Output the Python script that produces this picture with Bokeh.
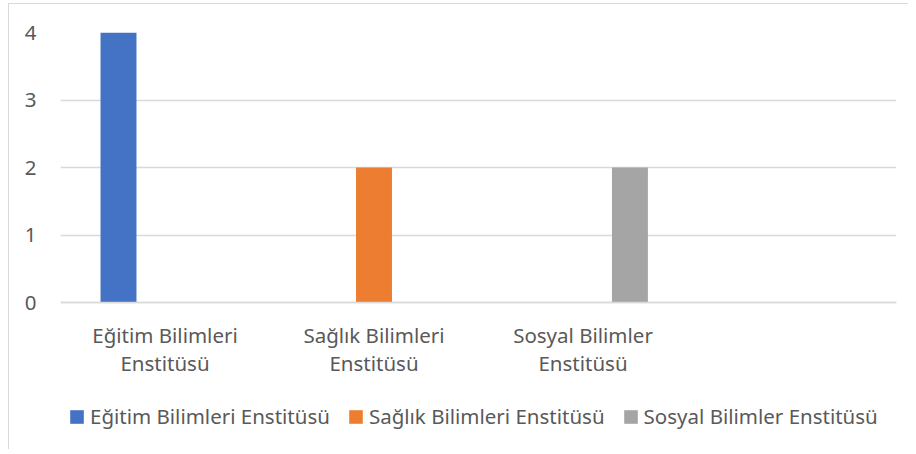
from bokeh.plotting import figure
from bokeh.models import FactorRange, Range1d, FixedTicker, Legend, LegendItem, ColumnDataSource
from bokeh.transform import dodge
from bokeh.embed import file_html
from bokeh.resources import INLINE

# Data
categories = ["Eğitim Bilimleri\nEnstitüsü", "Sağlık Bilimleri\nEnstitüsü", "Sosyal Bilimler\nEnstitüsü", " "]
series_names = ["Eğitim Bilimleri Enstitüsü", "Sağlık Bilimleri Enstitüsü", "Sosyal Bilimler Enstitüsü"]
egitim = [4, float("nan"), float("nan"), float("nan")]
saglik = [float("nan"), 2, float("nan"), float("nan")]
sosyal = [float("nan"), float("nan"), 2, float("nan")]
y_ticks = [0, 1, 2, 3, 4]

colors = ["#4472C4", "#ED7D31", "#A5A5A5"]
offsets = [-0.2225, 0.0, 0.2245]
FONT = "Noto Sans"
TXT = "#595959"
FS = "20.5px"

src = ColumnDataSource(dict(cat=categories, egitim=egitim, saglik=saglik, sosyal=sosyal))

# frame: top 28px, 270px for 0..4, extra room below 0 for labels and legend
p = figure(width=900, height=446, output_backend="svg", toolbar_location=None,
           x_range=FactorRange(factors=categories, range_padding=0),
           y_range=Range1d(-(418 - 270) / 67.5, 4),
           min_border_left=51, min_border_right=13, min_border_top=28, min_border_bottom=0)
p.styles = {"margin-left": "8px", "margin-top": "3px",
            "border-left": "1px solid #d9d9d9", "border-top": "1px solid #d9d9d9"}
p.x_range.factor_padding = 0
p.outline_line_color = None
p.background_fill_color = "white"
p.border_fill_color = "white"

items = []
for name, col, c, off in zip(series_names, ["egitim", "saglik", "sosyal"], colors, offsets):
    r = p.vbar(x=dodge("cat", off, range=p.x_range), top=col, width=0.172, bottom=0,
               source=src, fill_color=c, line_color=None)
    items.append(LegendItem(label=name, renderers=[r]))

# axes
p.yaxis.ticker = FixedTicker(ticks=y_ticks)
p.yaxis.axis_line_color = None
p.yaxis.major_tick_line_color = None
p.yaxis.minor_tick_line_color = None
p.yaxis.major_label_text_font = FONT
p.yaxis.major_label_text_font_size = FS
p.yaxis.major_label_text_color = TXT
p.yaxis.major_label_standoff = 18

p.xaxis.fixed_location = 0
p.xaxis.axis_line_color = "#d9d9d9"
p.xaxis.axis_line_width = 1.5
p.xaxis.major_tick_line_color = None
p.xaxis.minor_tick_line_color = None
p.xaxis.major_label_text_font = FONT
p.xaxis.major_label_text_font_size = FS
p.xaxis.major_label_text_color = TXT
p.xaxis.major_label_text_line_height = 1.0
p.xaxis.major_label_standoff = 12

p.xgrid.grid_line_color = None
p.ygrid.grid_line_color = "#d9d9d9"
p.ygrid.grid_line_width = 1.5

legend = Legend(items=items, orientation="horizontal", location=(8, 20),
                label_text_font=FONT, label_text_font_size=FS, label_text_color=TXT,
                glyph_width=17, glyph_height=17, label_standoff=5, spacing=17,
                padding=0, margin=0, border_line_color=None, background_fill_alpha=0)
p.add_layout(legend, "center")

open("out.html", "w").write(file_html(p, INLINE))
